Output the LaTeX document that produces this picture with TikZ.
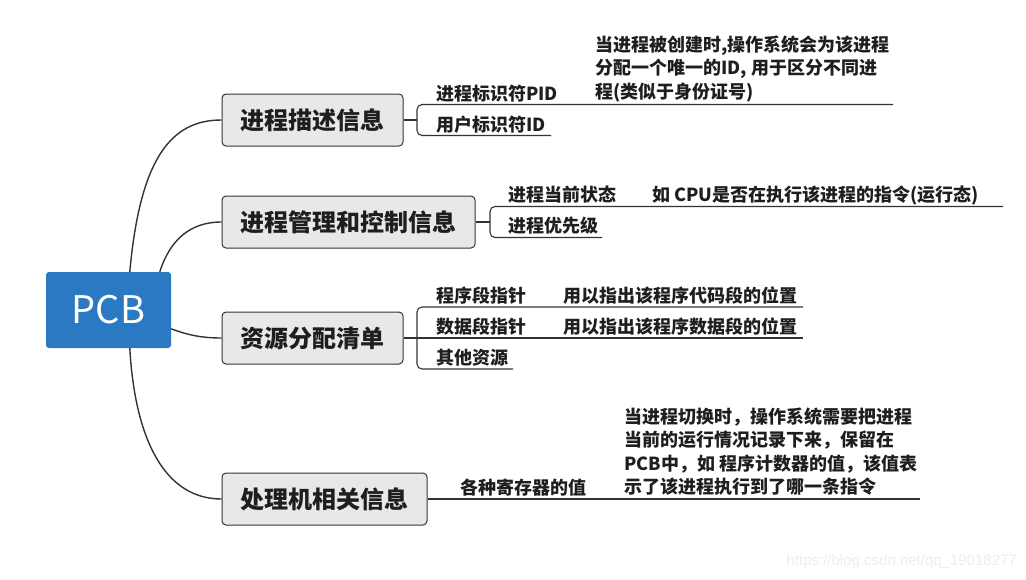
\documentclass[tikz,border=0pt]{standalone}
\usepackage{fontspec}
\setmainfont{Noto Sans CJK SC}
\newfontfamily\wmfont{Liberation Sans}
\definecolor{pcbblue}{HTML}{2B79C2}
\definecolor{boxfill}{HTML}{E8E8E8}
\definecolor{linec}{HTML}{333333}
\definecolor{txt}{HTML}{1E1E1E}
\begin{document}
\begin{tikzpicture}[x=1pt,y=-1pt,
  topic/.style={draw=linec, line width=1pt, fill=boxfill, rounded corners=4pt, minimum height=52pt, inner sep=0pt, font=\fontsize{24}{28}\selectfont\bfseries, text=txt},
  rootbox/.style={fill=pcbblue, rounded corners=3pt, minimum width=125pt, minimum height=76pt, inner sep=0pt, text=white, font=\fontsize{38}{40}\selectfont},
  sub/.style={anchor=base west, inner sep=0pt, font=\fontsize{18}{23.5}\selectfont\bfseries, text=txt},
  desc/.style={anchor=south west, inner sep=0pt, align=left, font=\fontsize{18}{23.5}\selectfont\bfseries, text=txt},
  branch/.style={draw=linec, line width=1.4pt},
  uline/.style={draw=linec, line width=1.1pt, rounded corners=5pt}]
\useasboundingbox (0,0) rectangle (1026,579);
% root
\node[rootbox] (pcb) at (108.5,310) {PCB};
% topics
\node[topic, minimum width=181pt] (b1) at (312.5,120) {进程描述信息};
\node[topic, minimum width=253pt] (b2) at (348.5,222) {进程管理和控制信息};
\node[topic, minimum width=181pt] (b3) at (312.5,338) {资源分配清单};
\node[topic, minimum width=205pt] (b4) at (324.5,499) {处理机相关信息};
% main branches
\draw[branch] ([xshift=84pt]pcb.north west) .. controls (140,160) and (170,120) .. (b1.west);
\draw[branch] ([xshift=114pt]pcb.north west) .. controls (170,240) and (190,222) .. (b2.west);
\draw[branch] ([yshift=-57pt]pcb.north east) .. controls (190,336) and (205,338) .. (b3.west);
\draw[branch] ([xshift=84pt]pcb.south west) .. controls (135,440) and (165,499) .. (b4.west);
% sub texts
\node[sub] (s11) at (436,100) {进程标识符PID};
\node[desc] (d11) at (595,102) {当进程被创建时,操作系统会为该进程\\分配一个唯一的ID, 用于区分不同进\\程(类似于身份证号)};
\node[sub] (s12) at (436,131) {用户标识符ID};
\node[sub] (s21) at (508,201) {进程当前状态};
\node[sub] (d21) at (652,201) {如 CPU是否在执行该进程的指令(运行态)};
\node[sub] (s22) at (508,232) {进程优先级};
\node[sub] (s31) at (436,302) {程序段指针};
\node[sub] (d31) at (563,302) {用以指出该程序代码段的位置};
\node[sub] (s32) at (436,333) {数据段指针};
\node[sub] (d32) at (563,333) {用以指出该程序数据段的位置};
\node[sub] (s33) at (436,364) {其他资源};
\node[sub] (s41) at (460,494) {各种寄存器的值};
\node[desc] (d41) at (624,496) {当进程切换时，操作系统需要把进程\\当前的运行情况记录下来，保留在\\PCB中，如 程序计数器的值，该值表\\示了该进程执行到了哪一条指令};
% bracket coordinates
\coordinate (k1) at (417,120);
\coordinate (k1t) at (417,104.5);
\coordinate (k1b) at (417,135.5);
\coordinate (e11) at (893,104.5);
\coordinate (e12) at (551,135.5);
\coordinate (k2) at (490,222);
\coordinate (k2t) at (490,206.5);
\coordinate (k2b) at (490,237.5);
\coordinate (e21) at (1003,206.5);
\coordinate (e22) at (602,237.5);
\coordinate (k3t) at (417,307);
\coordinate (k3b) at (417,369);
\coordinate (e31) at (803,307);
\coordinate (e32) at (803,338);
\coordinate (e33) at (513,369);
\coordinate (e41) at (920,499);
% connectors to sub items
\draw[uline] (b1.east) -- (k1);
\draw[uline] (e11) -- (k1t) -- (k1b) -- (e12);
\draw[uline] (b2.east) -- (k2);
\draw[uline] (e21) -- (k2t) -- (k2b) -- (e22);
\draw[uline] (b3.east) -- (e32);
\draw[uline] (e31) -- (k3t) -- (k3b) -- (e33);
\draw[uline] (b4.east) -- (e41);
% watermark
\node[anchor=base east, inner sep=0pt, font=\wmfont\fontsize{15}{15}\selectfont, text=black!7] (wm) at (1017,565) {https://blog.csdn.net/qq\_19018277};
\end{tikzpicture}
\end{document}
